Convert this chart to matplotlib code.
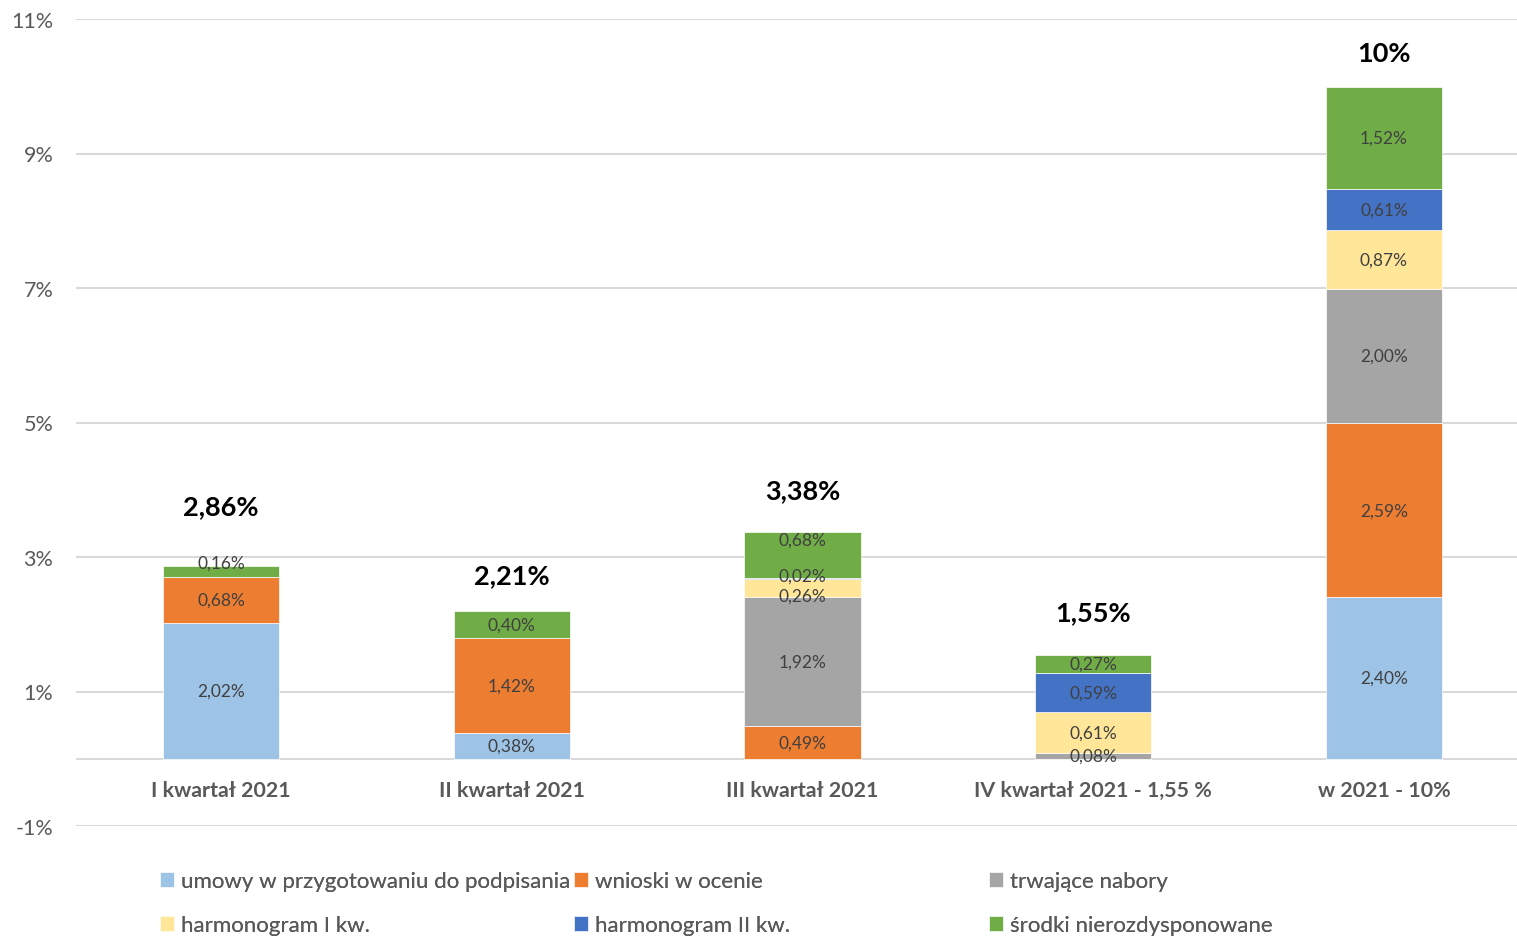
import matplotlib
matplotlib.use("Agg")
import matplotlib.pyplot as plt
import numpy as np

plt.rcParams['font.family'] = ['Lato', 'DejaVu Sans']

categories = ["I kwartał 2021", "II kwartał 2021", "III kwartał 2021",
              "IV kwartał 2021 - 1,55 %", "w 2021 - 10%"]
series_names = ["umowy w przygotowaniu do podpisania", "wnioski w ocenie",
                "trwające nabory", "harmonogram I kw.", "harmonogram II kw.",
                "środki nierozdysponowane"]
umowy = [2.02, 0.38, 0.0, 0.0, 2.40]
wnioski = [0.68, 1.42, 0.49, 0.0, 2.59]
trwajace = [0.0, 0.0, 1.92, 0.08, 2.00]
harm1 = [0.0, 0.0, 0.26, 0.61, 0.87]
harm2 = [0.0, 0.0, 0.02, 0.59, 0.61]
srodki = [0.16, 0.40, 0.68, 0.27, 1.52]
totals = [2.86, 2.21, 3.38, 1.55, 10.0]
total_labels = ["2,86%", "2,21%", "3,38%", "1,55%", "10%"]
yticks = [-1, 1, 3, 5, 7, 9, 11]

colors = ["#9DC3E6", "#ED7D31", "#A5A5A5", "#FFE699", "#4472C4", "#70AD47"]
total_offsets_px = [60, 35, 41, 42, 33]
# (series index, category index) -> vertical label shift in pixels
label_shift_px = {(5, 0): 9, (5, 2): 15, (4, 2): 3, (3, 2): -8}

W, H = 1517, 937
slot = 290.75
fig = plt.figure(figsize=(W/100, H/100), dpi=100)
ax = fig.add_axes([75.6/W, 1-827/H, 5*slot/W, (827-20)/H])

x = np.arange(len(categories))
bottom = np.zeros(len(categories))
handles = []
for si, (name, vals, c) in enumerate(zip(series_names, [umowy, wnioski, trwajace, harm1, harm2, srodki], colors)):
    vals = np.array(vals)
    bars = ax.bar(x, vals, 0.40, bottom=bottom, color=c, edgecolor='white',
                  linewidth=0.5, label=name, zorder=3)
    for ci, v in enumerate(vals):
        if v > 0:
            ax.annotate(("%.2f%%" % v).replace('.', ','), (x[ci], bottom[ci] + v/2),
                        xytext=(0, label_shift_px.get((si, ci), 0)), textcoords='offset pixels',
                        ha='center', va='center', fontsize=12.5, color='#404040', zorder=4)
    handles.append(bars)
    bottom += vals

for xi, t, lab, off in zip(x, totals, total_labels, total_offsets_px):
    ax.annotate(lab, (xi, t), xytext=(0, off), textcoords='offset pixels',
                ha='center', va='center', fontsize=19.5, fontweight='bold', color='black')

ax.set_xlim(-0.5, len(categories) - 0.5)
ax.set_ylim(-1, 11)
ax.set_yticks(yticks)
ax.set_yticklabels(["%d%%" % v for v in yticks], fontsize=15.5, color='#595959')
ax.yaxis.grid(True, color='#D9D9D9', linewidth=1.5, zorder=0)
ax.axhline(0, color='#D9D9D9', linewidth=1.5, zorder=2)
ax.tick_params(axis='y', length=0, pad=16)
ax.set_xticks([])
for xi, cat in zip(x, categories):
    ax.text(xi, -0.47, cat, ha='center', va='center', fontsize=15.4,
            fontweight='bold', color='#595959')
for s in ax.spines.values():
    s.set_visible(False)

col_x = [160/W, 574/W, 989/W]
for i in range(3):
    lg = fig.legend([handles[i], handles[i+3]], [series_names[i], series_names[i+3]],
                    loc='upper left', bbox_to_anchor=(col_x[i], 1-872/H),
                    frameon=False, fontsize=16, handlelength=0.65, handleheight=0.65,
                    handletextpad=0.3, labelspacing=1.1, borderpad=0, borderaxespad=0,
                    labelcolor='#595959')
    fig.add_artist(lg)

fig.savefig("out.png", dpi=100)
